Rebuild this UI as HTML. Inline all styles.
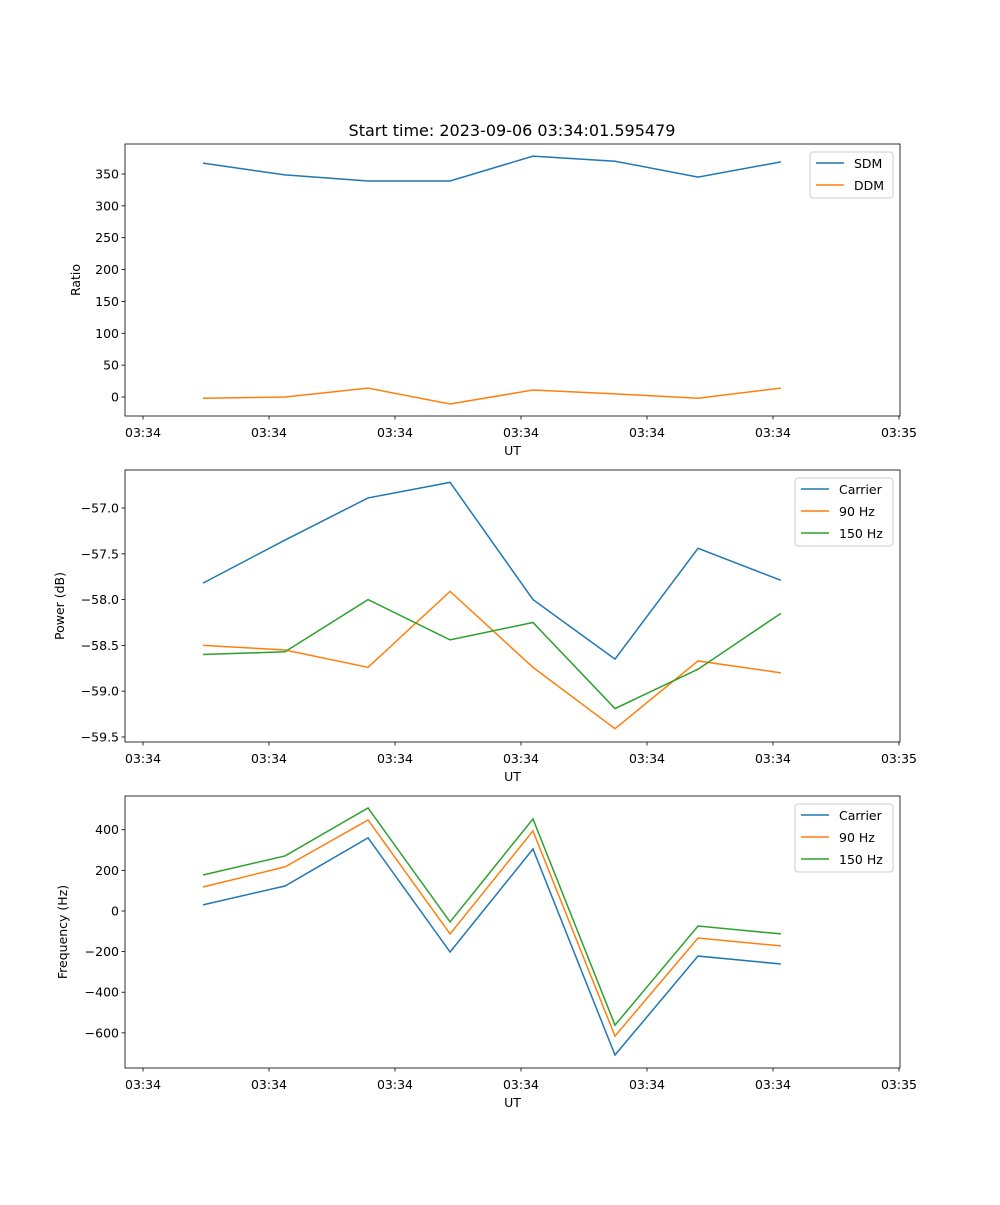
<!DOCTYPE html>
<html><head><meta charset="utf-8"><style>
body{margin:0;background:#fff}
svg text{font-family:"DejaVu Sans","Liberation Sans",sans-serif;fill:#000}
</style></head><body>
<svg id="fig" width="1000" height="1200" xmlns="http://www.w3.org/2000/svg">
<text x="512" y="136" font-size="16" text-anchor="middle">Start time: 2023-09-06 03:34:01.595479</text>
</svg>
<script>
const times = [0.476, 1.127, 1.786, 2.437, 3.095, 3.746, 4.405, 5.063];
const xTicks = [0,1,2,3,4,5,6];
const xTickLabels = ["03:34","03:34","03:34","03:34","03:34","03:34","03:35"];
const sdm = [367, 348.5, 339, 339, 378, 370, 345, 369];
const ddm = [-2, 0, 14, -11, 11, 5, -2, 14];
const powCarrier = [-57.82, -57.35, -56.89, -56.72, -58.0, -58.65, -57.44, -57.79];
const pow90 = [-58.50, -58.55, -58.74, -57.91, -58.74, -59.41, -58.67, -58.80];
const pow150 = [-58.60, -58.57, -58.00, -58.44, -58.25, -59.19, -58.76, -58.15];
const freqCarrier = [30, 123, 360, -202, 305, -709, -222, -261];
const freq90 = [118, 217, 448, -113, 394, -616, -133, -172];
const freq150 = [177, 271, 507, -54, 453, -562, -74, -113];
const ratioTicks = [0,50,100,150,200,250,300,350];
const powTicks = [-57.0,-57.5,-58.0,-58.5,-59.0,-59.5];
const freqTicks = [400,200,0,-200,-400,-600];

const NS="http://www.w3.org/2000/svg";
const svg=document.getElementById('fig');
function el(tag,attrs,parent){const e=document.createElementNS(NS,tag);for(const k in attrs)e.setAttribute(k,attrs[k]);(parent||svg).appendChild(e);return e;}
const L=125,R=900,xmin=-0.143,xmax=6.008;
const xs=v=>L+(v-xmin)/(xmax-xmin)*(R-L);
const C=['#1f77b4','#ff7f0e','#2ca02c'];

function panel(name,top,bot,ymin,ymax,yTicks,yFmt,yLabel,series,legend){
  const g=el('g',{});
  
  
  const ys=v=>bot-(v-ymin)/(ymax-ymin)*(bot-top);
  series.forEach((s,i)=>{
    const p=el('polyline',{points:s.data.map((v,j)=>xs(times[j])+','+ys(v)).join(' '),fill:'none',stroke:C[i],'stroke-width':1.5},g);
    
    
  });
  el('rect',{x:L,y:top,width:R-L,height:bot-top,fill:'none',stroke:'#000','stroke-width':0.8},g);
  xTicks.forEach((t,i)=>{
    const x=xs(t);
    el('line',{x1:x,x2:x,y1:bot,y2:bot+3.5,stroke:'#000','stroke-width':0.8},g);
    const tx=el('text',{x:x,y:bot+21,'font-size':12.5,'text-anchor':'middle'},g);tx.textContent=xTickLabels[i];
    
    
  });
  const xl=el('text',{x:(L+R)/2,y:bot+39,'font-size':12.5,'text-anchor':'middle'},g);xl.textContent='UT';
  
  
  yTicks.forEach(t=>{
    const y=ys(t);
    el('line',{x1:L-3.5,x2:L,y1:y,y2:y,stroke:'#000','stroke-width':0.8},g);
    const tx=el('text',{x:L-6,y:y+4.5,'font-size':12.5,'text-anchor':'end'},g);tx.textContent=yFmt(t);
    
    
  });
  const yl=el('text',{x:0,y:0,'font-size':12.5,'text-anchor':'middle',transform:`translate(${legend.yl},${(top+bot)/2}) rotate(-90)`},g);yl.textContent=yLabel;
  
  
  const lg=el('g',{},g);
  
  
  el('rect',{x:legend.x,y:top+8,width:893-legend.x,height:series.length*22+2,rx:3,fill:'#fff',stroke:'#ccc','stroke-width':1},lg);
  series.forEach((s,i)=>{
    const y=top+19+i*22;
    el('line',{x1:legend.x+6,x2:legend.x+34,y1:y,y2:y,stroke:C[i],'stroke-width':1.5},lg);
    const tx=el('text',{x:legend.x+44,y:y+5,'font-size':12.5},lg);tx.textContent=s.label;
    
    
  });
}
const fmtMinus=t=>String(t).replace('-','\u2212');
panel('ratio-panel',144,416,-29.8,397,ratioTicks,t=>String(t),'Ratio',
  [{id:'sdm',label:'SDM',data:sdm},{id:'ddm',label:'DDM',data:ddm}],{x:810,yl:80});
panel('power-panel',470,742,-59.555,-56.585,powTicks,t=>fmtMinus(t.toFixed(1)),'Power (dB)',
  [{id:'carrier',label:'Carrier',data:powCarrier},{id:'90hz',label:'90 Hz',data:pow90},{id:'150hz',label:'150 Hz',data:pow150}],{x:795,yl:64});
panel('frequency-panel',796,1068,-773,566,freqTicks,t=>fmtMinus(String(t)),'Frequency (Hz)',
  [{id:'carrier',label:'Carrier',data:freqCarrier},{id:'90hz',label:'90 Hz',data:freq90},{id:'150hz',label:'150 Hz',data:freq150}],{x:795,yl:67});
</script>
</body></html>
